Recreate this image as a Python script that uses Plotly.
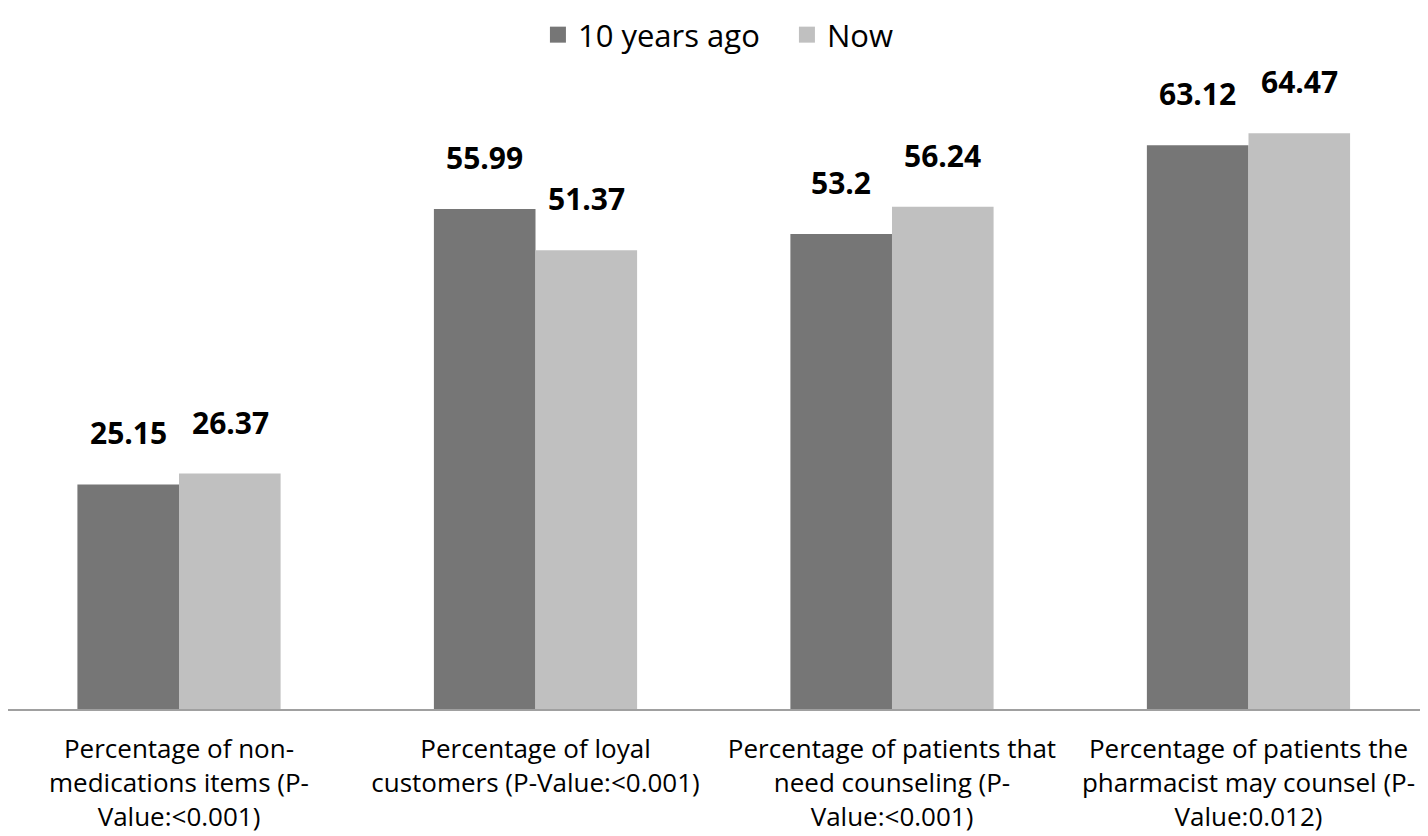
import plotly.graph_objects as go

categories = [
    "Percentage of non-<br>medications items (P-<br>Value:<0.001)",
    "Percentage of loyal<br>customers (P-Value:<0.001)",
    "Percentage of patients that<br>need counseling (P-<br>Value:<0.001)",
    "Percentage of patients the<br>pharmacist may counsel (P-<br>Value:0.012)",
]
series_names = ["10 years ago", "Now"]
ten_years_ago = [25.15, 55.99, 53.2, 63.12]
now = [26.37, 51.37, 56.24, 64.47]
colors = ["#767676", "#c0c0c0"]

xs = list(range(len(categories)))
fig = go.Figure()
for name, vals, col in zip(series_names, [ten_years_ago, now], colors):
    fig.add_trace(go.Bar(x=xs, y=vals, name=name, legendgroup=name, showlegend=False,
                         marker_color=col, marker_line_width=0))
for name, col in zip(series_names, colors):
    fig.add_trace(go.Scatter(x=[None], y=[None], mode="markers", name=name,
                             legendgroup=name,
                             marker=dict(symbol="square", size=20, color=col)))

FONT = "Open Sans, sans-serif"
annotations = []
for i, vals in enumerate([ten_years_ago, now]):
    shift = -51 if i == 0 else 51
    for k, v in enumerate(vals):
        annotations.append(dict(x=k, y=v, text=f"<b>{v:g}</b>", showarrow=False,
                                xref="x", yref="y", xshift=shift, yshift=29,
                                yanchor="bottom",
                                font=dict(size=30, color="#000000", family=FONT)))

fig.update_layout(
    width=1428, height=836,
    paper_bgcolor="white", plot_bgcolor="white",
    barmode="group", bargap=0.43, bargroupgap=0,
    margin=dict(l=0, r=0, t=60, b=135),
    legend=dict(orientation="h", x=0.3711, xanchor="left", y=1.0936, yanchor="top",
                font=dict(size=31, family=FONT, color="#000000"), itemwidth=30,
                entrywidth=204, entrywidthmode="pixels",
                traceorder="normal"),
    annotations=annotations,
    xaxis=dict(showline=True, linecolor="#a0a0a0", linewidth=2, ticks="",
               tickmode="array", tickvals=xs,
               ticktext=categories, range=[-0.4797, 3.526],
               ticklabelstandoff=16,
               tickfont=dict(size=26, family=FONT, color="#000000"),
               showgrid=False, zeroline=False),
    yaxis=dict(range=[0, 71.78], visible=False, showgrid=False, zeroline=False),
)
fig.write_html("out.html")
